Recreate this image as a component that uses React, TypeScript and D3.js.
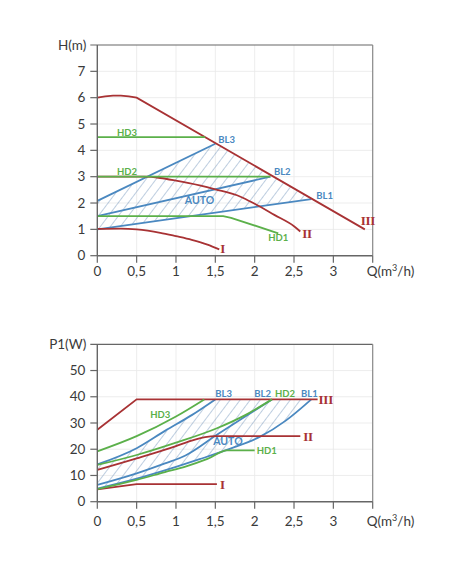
import * as d3 from 'd3';

type Pt = [number, number];

// axis ticks
const qTicks = [0, 0.5, 1, 1.5, 2, 2.5, 3];
const qTickLabels = ['0', '0,5', '1', '1,5', '2', '2,5', '3'];
const hTicks = [0, 1, 2, 3, 4, 5, 6, 7];
const pTicks = [0, 10, 20, 30, 40, 50];

// head curves H(m) vs Q(m3/h)
const hIII: Pt[] = [[0, 6.0], [0.1, 6.05], [0.2, 6.08], [0.3, 6.08], [0.4, 6.05], [0.5, 6.0], [3.4, 1.0]];
const hII: Pt[] = [[0, 3.0], [0.6, 3.0], [0.8, 2.95], [1, 2.85], [1.3, 2.67], [1.5, 2.52], [1.82, 2.24], [2, 1.97], [2.25, 1.55], [2.5, 1.12], [2.58, 0.92]];
const hI: Pt[] = [[0, 1.02], [0.3, 1.03], [0.5, 1.0], [0.8, 0.87], [1, 0.74], [1.2, 0.6], [1.4, 0.42], [1.55, 0.24]];
const hHD3: Pt[] = [[0, 4.5], [1.37, 4.5]];
const hHD2: Pt[] = [[0, 3.0], [2.2, 3.0]];
const hHD1: Pt[] = [[0, 1.5], [1.6, 1.5], [1.7, 1.44], [2.3, 0.85]];
const hBL3: Pt[] = [[0, 2.08], [1.5, 4.25]];
const hBL2: Pt[] = [[0, 1.5], [2.2, 3.0]];
const hBL1: Pt[] = [[0, 1.0], [2.72, 2.15]];

// power curves P1(W) vs Q(m3/h)
const pIII: Pt[] = [[0, 27.4], [0.5, 39], [2.8, 39]];
const pII: Pt[] = [[0, 12.1], [0.5, 16.5], [1, 21.2], [1.2, 23.3], [1.37, 24.6], [1.5, 25], [2.58, 25]];
const pI: Pt[] = [[0, 4.7], [0.5, 6.7], [1.52, 6.7]];
const pHD3: Pt[] = [[0, 19.2], [0.5, 25], [1, 32.5], [1.36, 39]];
const pHD2: Pt[] = [[0, 14], [0.5, 17.8], [1, 22.5], [1.52, 28], [1.88, 33], [2.22, 39]];
const pHD1: Pt[] = [[0, 4.8], [0.5, 8.3], [0.86, 11.3], [1.12, 13.4], [1.4, 16.3], [1.65, 19.6], [2.0, 19.6]];
const pBL3: Pt[] = [[0, 14.2], [0.5, 20.4], [0.86, 27], [1.2, 33], [1.5, 39]];
const pBL2: Pt[] = [[0, 6.4], [0.5, 10.8], [0.86, 14.6], [1.12, 17.6], [1.52, 25.5], [1.88, 32.5], [2.22, 39]];
const pBL1: Pt[] = [[0, 5], [0.5, 8.8], [1, 13.3], [1.3, 16.2], [1.7, 20.3], [2.07, 24.8], [2.4, 31], [2.72, 39]];

// series drawn as straight segments (the rest are smoothed)
const straight = new Set<Pt[]>([hIII, hHD3, hHD2, hHD1, hBL3, hBL2, hBL1, pIII, pI]);

const RED = '#a83234';
const GREEN = '#5bb04a';
const BLUE = '#4a88c0';
const HATCH = '#6f92ba';
const FONT = 'Lato, "Open Sans", sans-serif';

const W = 452;
const H = 584;
const X0 = 97.3;
const X1 = 372.7;

type Lbl = { t: string; at: Pt; dx: number; dy: number; c: string; anchor?: string; roman?: boolean; big?: boolean };

function last(s: Pt[]): Pt {
  return s[s.length - 1];
}

function Panel(props: {
  y0: number; y1: number; vmax: number; ticks: number[]; step: number; title: string;
  xLabelY: number; hatchId: string;
  hatch: [Pt[], Pt[]]; blue: Pt[][]; red: Pt[][]; green: Pt[][]; labels: Lbl[];
}) {
  const { y0, y1, vmax, ticks, step, title, xLabelY, hatchId, hatch, blue, red, green, labels } = props;
  const x = d3.scaleLinear().domain([0, 3.5]).range([X0, X1]);
  const y = d3.scaleLinear().domain([0, vmax]).range([y0, y1]);
  const smooth = d3.line<Pt>().x((d) => x(d[0])).y((d) => y(d[1])).curve(d3.curveMonotoneX);
  const flat = d3.line<Pt>().x((d) => x(d[0])).y((d) => y(d[1]));
  const path = (s: Pt[]) => (straight.has(s) ? flat(s) : smooth(s)) || '';
  const hatchPath =
    path(hatch[0]) +
    (straight.has(hatch[1]) ? flat([...hatch[1]].reverse()) : smooth([...hatch[1]].reverse()) || '').replace('M', 'L') +
    'Z';
  const gridV = d3.range(0.5, 3.5, 0.5);
  const gridH = d3.range(step, vmax, step);

  return (
    <g>
      <defs>
        <pattern id={hatchId} width={8} height={8} patternUnits="userSpaceOnUse" patternTransform="rotate(37)">
          <line x1={0} y1={0} x2={0} y2={8} stroke={HATCH} strokeWidth={0.9} />
        </pattern>
      </defs>
      {gridV.map((q) => (
        <line key={'v' + q} x1={x(q)} x2={x(q)} y1={y0} y2={y1} stroke="#e8e8e8" strokeWidth={0.8} />
      ))}
      {gridH.map((v) => (
        <line key={'h' + v} x1={X0} x2={X1} y1={y(v)} y2={y(v)} stroke="#e8e8e8" strokeWidth={0.8} />
      ))}
      <path d={hatchPath} fill={`url(#${hatchId})`} stroke="none" />
      {blue.map((s, i) => (
        <path key={'b' + i} d={path(s)} fill="none" stroke={BLUE} strokeWidth={1.8} />
      ))}
      {red.map((s, i) => (
        <path key={'r' + i} d={path(s)} fill="none" stroke={RED} strokeWidth={1.8} />
      ))}
      {green.map((s, i) => (
        <path key={'g' + i} d={path(s)} fill="none" stroke={GREEN} strokeWidth={1.8} />
      ))}

      {/* frame and axes */}
      <line x1={X0 - 7} x2={X1} y1={y1} y2={y1} stroke="#666" strokeWidth={1.2} />
      <line x1={X1} x2={X1} y1={y1} y2={y0} stroke="#888" strokeWidth={1.2} />
      <line x1={X0} x2={X0} y1={y1} y2={y0} stroke="#666" strokeWidth={1.4} />
      <line x1={X0} x2={X1} y1={y0} y2={y0} stroke="#666" strokeWidth={1.4} />
      {ticks.map((v) => (
        <g key={'yt' + v}>
          <line x1={X0 - 7} x2={X0} y1={y(v)} y2={y(v)} stroke="#666" strokeWidth={1.2} />
          <text x={X0 - 12} y={y(v) + 4.5} textAnchor="end" fontSize={13.5} fill="#3a3a3a" fontFamily={FONT}>{v}</text>
        </g>
      ))}
      <text x={X0 - 11} y={y1 + 4.5} textAnchor="end" fontSize={13.5} fill="#3a3a3a" fontFamily={FONT}>{title}</text>
      {qTicks.map((q, i) => (
        <g key={'xt' + q}>
          <line x1={x(q)} x2={x(q)} y1={y0} y2={y0 + 7} stroke="#666" strokeWidth={1.2} />
          <text x={x(q)} y={xLabelY} textAnchor="middle" fontSize={13.5} fill="#3a3a3a" fontFamily={FONT}>{qTickLabels[i]}</text>
        </g>
      ))}
      <line x1={X1} x2={X1} y1={y0} y2={y0 + 7} stroke="#666" strokeWidth={1.2} />
      <text x={X1 - 6} y={xLabelY} textAnchor="start" fontSize={13.5} fill="#3a3a3a" fontFamily={FONT}>
        Q(m<tspan fontSize={9} dy={-5}>3</tspan><tspan dy={5}>/h)</tspan>
      </text>

      {labels.map((l, i) => (
        <text
          key={'l' + i}
          x={x(l.at[0]) + l.dx}
          y={y(l.at[1]) + l.dy}
          textAnchor={l.anchor || 'start'}
          fontSize={l.roman ? 13 : l.big ? 10.5 : 9.5}
          fontWeight="bold"
          fill={l.c}
          fontFamily={l.roman ? '"Liberation Serif", serif' : FONT}
          letterSpacing={l.roman ? -0.3 : 0}
        >
          {l.t}
        </text>
      ))}
    </g>
  );
}

export default function App() {
  const topLabels: Lbl[] = [
    { t: 'HD3', at: [0.25, 4.5], dx: 0, dy: -1.5, c: GREEN },
    { t: 'HD2', at: [0.25, 3.0], dx: 0, dy: -1.5, c: GREEN },
    { t: 'HD1', at: last(hHD1), dx: 0, dy: 8, c: GREEN, anchor: 'middle' },
    { t: 'BL3', at: last(hBL3), dx: 3, dy: -1, c: BLUE },
    { t: 'BL2', at: last(hBL2), dx: 3.5, dy: -1.8, c: BLUE },
    { t: 'BL1', at: last(hBL1), dx: 5, dy: 0, c: BLUE },
    { t: 'AUTO', at: [1.3, 1.97], dx: 0, dy: 0, c: BLUE, anchor: 'middle', big: true },
    { t: 'III', at: last(hIII), dx: -4, dy: -4, c: RED, roman: true },
    { t: 'II', at: last(hII), dx: 2, dy: 6.5, c: RED, roman: true },
    { t: 'I', at: last(hI), dx: 1, dy: 3.5, c: RED, roman: true },
  ];
  const bottomLabels: Lbl[] = [
    { t: 'BL3', at: last(pBL3), dx: 0, dy: -2.5, c: BLUE },
    { t: 'BL2', at: last(pBL2), dx: -1, dy: -2.5, c: BLUE, anchor: 'end' },
    { t: 'HD2', at: last(pHD2), dx: 3, dy: -2.5, c: GREEN },
    { t: 'BL1', at: last(pBL1), dx: -2, dy: -2.5, c: BLUE, anchor: 'middle' },
    { t: 'HD3', at: [0.8, 31.9], dx: 0, dy: 0, c: GREEN, anchor: 'middle' },
    { t: 'HD1', at: last(pHD1), dx: 2, dy: 3.5, c: GREEN },
    { t: 'AUTO', at: [1.66, 21.6], dx: 0, dy: 0, c: BLUE, anchor: 'middle', big: true },
    { t: 'III', at: last(pIII), dx: 1, dy: 4.5, c: RED, roman: true },
    { t: 'II', at: last(pII), dx: 3, dy: 4.5, c: RED, roman: true },
    { t: 'I', at: last(pI), dx: 3, dy: 4.5, c: RED, roman: true },
  ];

  return (
    <svg width={W} height={H} style={{ position: 'absolute', left: 0, top: 0, background: '#fff' }}>
      <rect width={W} height={H} fill="#fff" />
      <Panel
        y0={255.7} y1={45} vmax={8} ticks={hTicks} step={1} title="H(m)" xLabelY={276}
        hatchId="hatchTop" hatch={[hBL1, hBL3]}
        blue={[hBL3, hBL2, hBL1]} red={[hIII, hII, hI]} green={[hHD3, hHD2, hHD1]}
        labels={topLabels}
      />
      <Panel
        y0={501.7} y1={344.3} vmax={60} ticks={pTicks} step={10} title="P1(W)" xLabelY={526}
        hatchId="hatchBottom" hatch={[pBL1, pBL3]}
        blue={[pBL3, pBL2, pBL1]} red={[pIII, pII, pI]} green={[pHD3, pHD2, pHD1]}
        labels={bottomLabels}
      />
    </svg>
  );
}
